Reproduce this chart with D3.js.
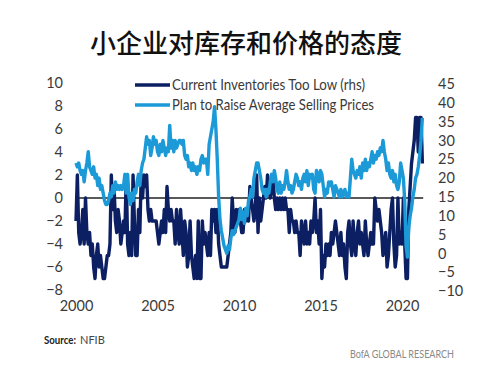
<!DOCTYPE html>
<html>
<head>
<meta charset="utf-8">
<script src="https://cdn.jsdelivr.net/npm/d3@7"></script>
<style>
  html, body { margin: 0; padding: 0; background: #fff; }
  svg { display: block; }
</style>
</head>
<body>
<svg id="chart" width="500" height="367"></svg>
<script>
// ---------------- DATA ----------------
const title = "小企业对库存和价格的态度";
const seriesNames = ["Current Inventories Too Low (rhs)", "Plan to Raise Average Selling Prices"];
const startYear = 2000; // monthly data, Jan 2000 – Apr 2021

// Current inventories too low (net %), plotted on the left scale
const inventoriesTooLow = [
  -2, 2, -3, -4, -3, -1, -4, 0, -3, -4, -3, -5,
  -4, -6, -7, -5, -4, -6, -5, -6, -7, -7, -6, -5,
  -5, -4, 2, -1, 1, -2, -3, -1, -2, -4, -3, -2,
  -3, 2, -4, -5, -3, -5, 2, -2, -5, -5, -1, -3,
  2, 0, 2, 1, 2, -1, -2, -1, -2, -2, -2, -2,
  -3, -4, -3, -2, -3, -1, -3, 1, -1, -2, -1, -2,
  -2, -4, -1, -3, -4, -1, -3, -5, -2, -3, -6, -5,
  -2, -5, -6, -7, -5, -7, -2, -7, -7, -2, -4, -3,
  -4, -5, -3, -5, -1, -2, -1, -3, -1, -4, -5, -6,
  -6, -6, -6, -6, -5, -4, -3, 0, -2, -3, -1, -2,
  -1, -2, -3, -3, -1, -2, -1, -2, 1, 0, -1, -2,
  -1, 2, -3, 0, -2, -1, 0, 1, 0, 2, 1, 0,
  1, 2, 0, -1, 0, -1, 0, -1, 0, -1, 0, -1,
  -1, -3, -1, -2, -2, -3, -2, -3, -3, -5, -2, -3,
  -4, -2, -4, -3, -4, -2, -3, -2, 0, -3, -2, -4,
  -1, -7, -5, -6, -4, -5, -4, -5, -3, -4, -3, -2,
  -3, -4, -5, -3, -5, -4, -6, -7, -3, -2, -4, -5,
  -2, -4, -5, -3, -2, -4, -3, -4, -5, -2, -4, -5,
  -4, -3, -4, -4, 0, -1, -2, -1, -2, -3, -5, -4,
  -3, -6, -5, -3, -1, 0, -4, -6, -5, 0, -4, -3,
  -4, 0, -4, -7, -7, -1, 1, 3, 4, 5, 7, 7,
  4, 7, 7, 3
];

// Plan to raise average selling prices (net %), plotted on the right scale
const planToRaisePrices = [
  24, 23, 24, 22, 21, 22, 19, 22, 24, 27, 23, 22,
  21, 23, 20, 21, 18, 20, 17, 18, 16, 14, 13, 13,
  14, 16, 15, 18, 16, 19, 17, 18, 17, 18, 17, 18,
  21, 16, 21, 15, 13, 16, 14, 17, 16, 19, 21, 18,
  22, 24, 25, 28, 31, 29, 30, 26, 28, 31, 29, 30,
  27, 26, 29, 27, 30, 28, 26, 28, 27, 34, 28, 30,
  27, 30, 28, 29, 30, 30, 29, 30, 26, 25, 26, 23,
  24, 22, 24, 22, 23, 21, 23, 22, 25, 26, 24, 25,
  25, 21, 29, 31, 33, 35, 39, 33, 25, 15, 9, 6,
  4, 2, 1, 0, 2, 1, 4, 6, 5, 6, 7, 8,
  9, 12, 9, 11, 8, 12, 10, 14, 15, 17, 15, 20,
  22, 24, 24, 22, 20, 17, 16, 17, 15, 17, 16, 19,
  21, 19, 22, 20, 17, 16, 19, 16, 18, 17, 19, 22,
  19, 17, 18, 16, 17, 19, 21, 20, 18, 19, 17, 20,
  21, 19, 22, 18, 21, 20, 21, 17, 16, 22, 21, 19,
  22, 21, 18, 15, 17, 16, 19, 18, 19, 17, 15, 18,
  17, 16, 15, 17, 15, 16, 17, 15, 16, 15, 20, 25,
  22, 21, 20, 22, 21, 23, 20, 24, 22, 25, 22, 24,
  23, 25, 27, 24, 26, 25, 27, 26, 28, 27, 30, 27,
  25, 22, 24, 21, 20, 22, 19, 21, 18, 17, 19, 24,
  22, 20, 14, 2, -1, 7, 10, 12, 15, 17, 20, 21,
  23, 26, 30, 36
];

const xTicks = [2000, 2005, 2010, 2015, 2020];
const leftTicks = [10, 8, 6, 4, 2, 0, -2, -4, -6, -8];
const rightTicks = [45, 40, 35, 30, 25, 20, 15, 10, 5, 0, -5, -10];
const sourceLabel = "Source:";
const sourceText = "NFIB";
const brand = "BofA GLOBAL RESEARCH";

// ---------------- CHART ----------------
const svg = d3.select("#chart");
const darkBlue = "#0b1f62";
const lightBlue = "#1c9ad7";
const font = "Lato, 'Open Sans', sans-serif";

svg.append("rect").attr("width", 500).attr("height", 367).attr("fill", "#fff");

const x = d3.scaleLinear().domain([2000, 2020]).range([76, 402]);
const yL = d3.scaleLinear().domain([-8, 10]).range([290, 83]);
const yR = d3.scaleLinear().domain([-10, 45]).range([291, 84]);

const t = i => startYear + i / 12;

// title
svg.append("text")
  .attr("x", 246).attr("y", 41)
  .attr("text-anchor", "middle").attr("dominant-baseline", "central")
  .attr("font-family", "'Noto Sans CJK SC', sans-serif")
  .attr("font-size", 26).attr("font-weight", 500).attr("fill", "#111")
  .text(title);

// axes
const axL = svg.append("g").attr("transform", "translate(63,0)")
  .call(d3.axisLeft(yL).tickValues(leftTicks).tickSize(0).tickPadding(0).tickFormat(d3.format("d")));
const axR = svg.append("g").attr("transform", "translate(438,0)")
  .call(d3.axisRight(yR).tickValues(rightTicks).tickSize(0).tickPadding(0).tickFormat(d3.format("d")));
const axX = svg.append("g").attr("transform", "translate(0,300)")
  .call(d3.axisBottom(x).tickValues(xTicks).tickSize(0).tickPadding(0).tickFormat(d3.format("d")));
[axL, axR, axX].forEach(g => {
  g.select(".domain").remove();
  g.selectAll("text").attr("font-family", font).attr("font-size", 14.5).attr("fill", "#3a3a3a");
});
axX.selectAll("text").attr("dy", "0.75em");

// zero line
svg.append("line")
  .attr("x1", x(2000)).attr("x2", x(2021.3))
  .attr("y1", yL(0)).attr("y2", yL(0))
  .attr("stroke", "#222").attr("stroke-width", 1.3);

// series
const lineL = d3.line().x((d, i) => x(t(i))).y(d => yL(d));
const lineR = d3.line().x((d, i) => x(t(i))).y(d => yR(d));

svg.append("path").datum(inventoriesTooLow)
  .attr("d", lineL).attr("fill", "none")
  .attr("stroke", darkBlue).attr("stroke-width", 3.4).attr("stroke-linejoin", "round");
svg.append("path").datum(planToRaisePrices)
  .attr("d", lineR).attr("fill", "none")
  .attr("stroke", lightBlue).attr("stroke-width", 3.4).attr("stroke-linejoin", "round");

// legend
const legend = [
  { name: seriesNames[0], color: darkBlue, y: 85, w: 193 },
  { name: seriesNames[1], color: lightBlue, y: 105, w: 202 }
];
legend.forEach(l => {
  svg.append("line").attr("x1", 135).attr("x2", 170).attr("y1", l.y).attr("y2", l.y)
    .attr("stroke", l.color).attr("stroke-width", 3.4);
  svg.append("text").attr("x", 172).attr("y", l.y).attr("dy", "0.35em")
    .attr("font-family", font).attr("font-size", 15).attr("fill", "#3a3a3a")
    .attr("textLength", l.w).attr("lengthAdjust", "spacingAndGlyphs")
    .text(l.name);
});

// source & brand
svg.append("text").attr("x", 44).attr("y", 340).attr("dy", "0.35em")
  .attr("font-family", font).attr("font-size", 11).attr("font-weight", 700).attr("fill", "#222")
  .attr("textLength", 32).attr("lengthAdjust", "spacingAndGlyphs")
  .text(sourceLabel);
svg.append("text").attr("x", 80).attr("y", 340).attr("dy", "0.35em")
  .attr("font-family", font).attr("font-size", 11).attr("fill", "#444")
  .text(sourceText);
svg.append("text").attr("x", 350).attr("y", 354).attr("dy", "0.35em")
  .attr("font-family", font).attr("font-size", 11).attr("fill", "#8a8a8a")
  .attr("textLength", 104).attr("lengthAdjust", "spacingAndGlyphs")
  .text(brand);
</script>
</body>
</html>
